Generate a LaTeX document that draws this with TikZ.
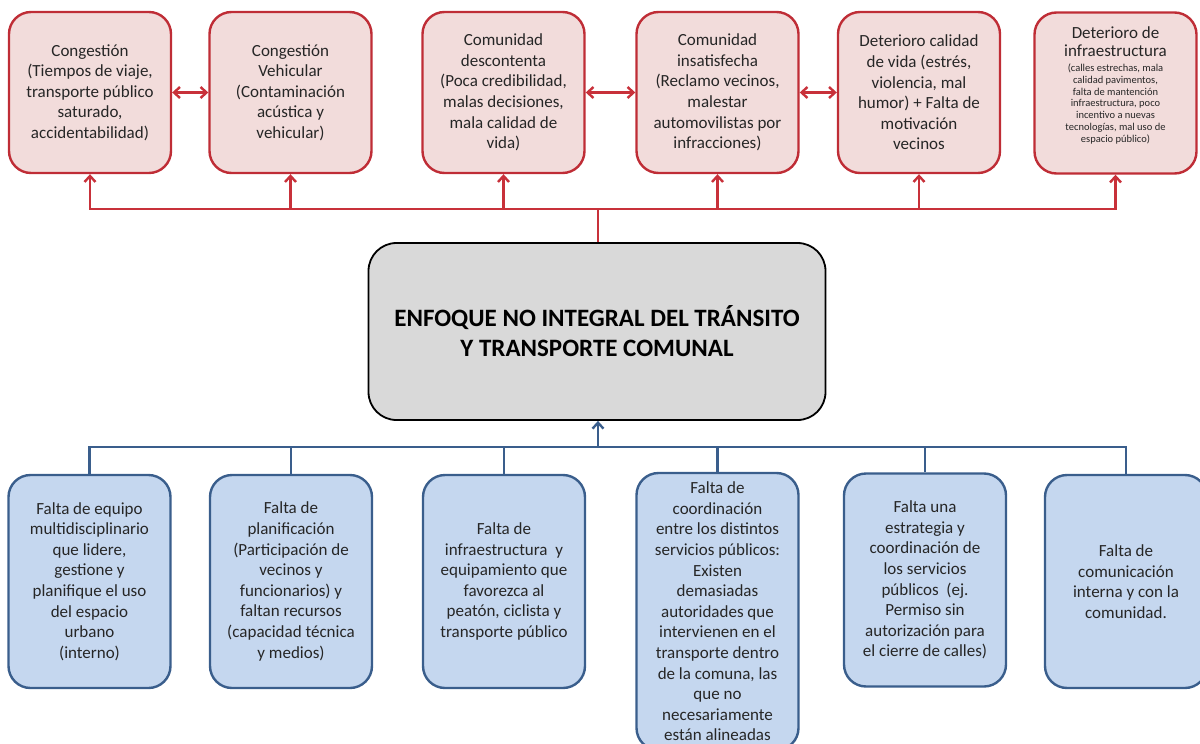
\documentclass[tikz,border=0pt]{standalone}
\usepackage{fontspec}
\setmainfont{Carlito}
\usetikzlibrary{arrows.meta}
\definecolor{redln}{HTML}{C8313A}
\definecolor{redbd}{HTML}{BF2D36}
\definecolor{pinkf}{HTML}{F2DCDB}
\definecolor{bluef}{HTML}{C5D7EF}
\definecolor{bluebd}{HTML}{3A5E8C}
\definecolor{grayf}{HTML}{D9D9D9}
\definecolor{txt}{HTML}{262626}
\begin{document}
\begin{tikzpicture}[x=1pt,y=-1pt,
  basebox/.style={line width=2.4pt, rounded corners=22pt, align=center, inner sep=0pt,
    font=\fontsize{17}{20.6}\selectfont, text=txt},
  redbox/.style={basebox, draw=redbd, fill=pinkf, minimum width=162pt, minimum height=161pt},
  bluebox/.style={basebox, draw=bluebd, fill=bluef, minimum width=162pt, minimum height=213pt},
  corebox/.style={draw=black, line width=1.8pt, fill=grayf, rounded corners=28pt,
    minimum width=457pt, minimum height=177pt, align=center, inner sep=0pt,
    font=\fontsize{25}{30}\selectfont\bfseries, text=black},
  redline/.style={draw=redln, line width=2.4pt},
  blueline/.style={draw=bluebd, line width=2.4pt},
  tip/.style={-{Straight Barb[length=6pt,width=11pt]}},
  dtip/.style={{Straight Barb[length=6pt,width=11pt]}-{Straight Barb[length=6pt,width=11pt]}}
]
\useasboundingbox (0,0) rectangle (1200,744);
\clip (0,0) rectangle (1200,744);

% central problem
\node[corebox] (core) at (597,331.5) {ENFOQUE NO INTEGRAL DEL TRÁNSITO\\Y TRANSPORTE COMUNAL};

% effects (top)
\node[redbox] (t1) at (90,92.5) {Congestión\\(Tiempos de viaje,\\transporte público\\saturado,\\accidentabilidad)};
\node[redbox] (t2) at (290.5,92.5) {Congestión\\Vehicular\\(Contaminación\\acústica y\\vehicular)};
\node[redbox] (t3) at (503.5,92.5) {Comunidad\\descontenta\\(Poca credibilidad,\\malas decisiones,\\mala calidad de\\vida)};
\node[redbox] (t4) at (717.5,92.5) {Comunidad\\insatisfecha\\(Reclamo vecinos,\\malestar\\automovilistas por\\infracciones)};
\node[redbox] (t5) at (919,92.5) {Deterioro calidad\\de vida (estrés,\\violencia, mal\\humor) + Falta de\\motivación\\vecinos};
\node[redbox] (t6) at (1115.5,93) {};
\node[align=center, inner sep=0pt, text=txt, font=\fontsize{17}{18}\selectfont] (t6a) at (1115.5,42) {Deterioro de\\infraestructura};
\node[align=center, inner sep=0pt, text=txt, font=\fontsize{10.5}{11.7}\selectfont] (t6b) at (1115.5,104) {(calles estrechas, mala\\calidad pavimentos,\\falta de mantención\\infraestructura, poco\\incentivo a nuevas\\tecnologías, mal uso de\\espacio público)};

% causes (bottom)
\node[bluebox] (b1) at (89.5,581.5) {Falta de equipo\\multidisciplinario\\que lidere,\\gestione y\\planifique el uso\\del espacio\\urbano\\(interno)};
\node[bluebox] (b2) at (291,581.5) {Falta de\\planificación\\(Participación de\\vecinos y\\funcionarios) y\\faltan recursos\\(capacidad técnica\\y medios)};
\node[bluebox] (b3) at (504,581.5) {Falta de\\infraestructura\ \ y\\equipamiento que\\favorezca al\\peatón, ciclista y\\transporte público};
\node[bluebox, minimum height=277pt] (b4) at (717.5,611.5) {Falta de\\coordinación\\entre los distintos\\servicios públicos:\\Existen\\demasiadas\\autoridades que\\intervienen en el\\transporte dentro\\de la comuna, las\\que no\\necesariamente\\están alineadas};
\node[bluebox] (b5) at (925,580) {Falta una\\estrategia y\\coordinación de\\los servicios\\públicos\ \ (ej.\\Permiso sin\\autorización para\\el cierre de calles)};
\node[bluebox] (b6) at (1126,581.5) {Falta de\\comunicación\\interna y con la\\comunidad.};

% top bus
\coordinate (tb) at (598,209);
\draw[redline] (core.north -| tb) -- (tb);
\foreach \n in {t1,t2,t3,t4,t5,t6}{
  \draw[redline,tip] (tb) -| (\n.south);
}
% links between effects
\draw[redline,dtip] (t1.east) -- (t2.west);
\draw[redline,dtip] (t3.east) -- (t4.west);
\draw[redline,dtip] (t4.east) -- (t5.west);

% bottom bus
\coordinate (bb) at (598,447);
\foreach \n in {b1,b2,b3,b4,b5,b6}{
  \draw[blueline] (\n.north) |- (bb);
}
\draw[blueline,tip] (bb) -- (core.south -| bb);
\end{tikzpicture}
\end{document}
